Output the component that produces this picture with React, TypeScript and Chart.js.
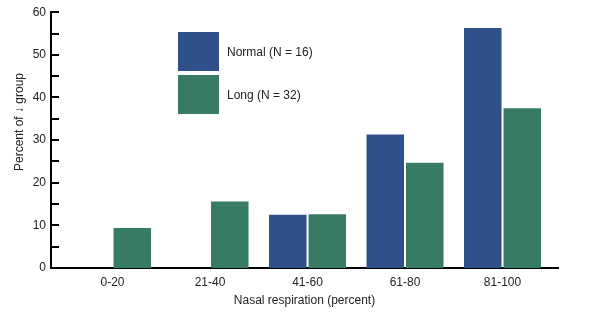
import React, { useEffect, useRef } from "react";
import { Chart, registerables } from "chart.js";

Chart.register(...registerables);

const categories = ["0-20", "21-40", "41-60", "61-80", "81-100"];
const normalValues = [0, 0, 12.5, 31.3, 56.3];
const longValues = [9.4, 15.6, 12.6, 24.7, 37.5];
const yTickValues = [0, 5, 10, 15, 20, 25, 30, 35, 40, 45, 50, 55, 60];
const seriesLabels = ["Normal (N = 16)", "Long (N = 32)"];
const seriesColors = ["#30508a", "#377b67"];
const yTitle = "Percent of \u2193 group";
const xTitle = "Nasal respiration (percent)";

const FONT = "'Liberation Sans', Arial, Helvetica, sans-serif";

const overlayPlugin = {
  id: "overlay",
  afterDraw(chart: any) {
    const ctx = chart.ctx;
    const y = chart.scales.y;
    const left = chart.chartArea.left;
    ctx.save();
    // inward y ticks
    ctx.strokeStyle = "#000";
    ctx.lineWidth = 2;
    yTickValues.forEach((v) => {
      const py = Math.round(y.getPixelForValue(v));
      ctx.beginPath();
      ctx.moveTo(left, py);
      ctx.lineTo(left + 8, py);
      ctx.stroke();
    });
    // legend
    const boxX = 178;
    const boxW = 41;
    const boxH = 39;
    const boxYs = [32, 75];
    ctx.font = "12px " + FONT;
    ctx.textBaseline = "middle";
    ctx.textAlign = "left";
    chart.data.datasets.forEach((ds: any, i: number) => {
      ctx.fillStyle = ds.backgroundColor;
      ctx.fillRect(boxX, boxYs[i], boxW, boxH);
      ctx.fillStyle = "#222";
      ctx.fillText(ds.label, boxX + boxW + 8, boxYs[i] + boxH / 2 + 1);
    });
    // y title
    ctx.translate(19.5, 122);
    ctx.rotate(-Math.PI / 2);
    ctx.textAlign = "center";
    ctx.textBaseline = "middle";
    ctx.font = "12px " + FONT;
    ctx.fillStyle = "#222";
    ctx.fillText(yTitle, 0, 0);
    ctx.restore();
  },
};

export default function App() {
  const ref = useRef<HTMLCanvasElement>(null);
  useEffect(() => {
    if (!ref.current) return;
    const chart = new Chart(ref.current, {
      type: "bar",
      data: {
        datasets: [
          {
            label: seriesLabels[0],
            data: normalValues.map((v, i) => ({ x: i + 1, y: v })),
            backgroundColor: seriesColors[0],
            borderWidth: 0,
          },
          {
            label: seriesLabels[1],
            data: longValues.map((v, i) => ({ x: i + 1, y: v })),
            backgroundColor: seriesColors[1],
            borderWidth: 0,
          },
        ],
      },
      options: {
        animation: false,
        responsive: false,
        maintainAspectRatio: false,
        devicePixelRatio: 1,
        layout: { padding: { top: 10, right: 37, left: 0, bottom: 0 } },
        datasets: {
          bar: { categoryPercentage: 0.81, barPercentage: 0.95 },
        },
        plugins: {
          legend: { display: false },
          tooltip: { enabled: false },
        },
        scales: {
          x: {
            type: "linear",
            offset: false,
            min: 0.369,
            max: 5.569,
            afterBuildTicks: (scale: any) => {
              scale.ticks = categories.map((_, i) => ({ value: i + 1 }));
            },
            afterFit: (scale: any) => {
              scale.height = 54;
            },
            grid: { display: false, drawTicks: false, offset: false },
            border: { display: true, color: "#000", width: 2 },
            ticks: {
              padding: 7,
              color: "#222",
              font: { family: FONT, size: 12 },
              maxRotation: 0,
              autoSkip: false,
              callback: (v: any) => categories[Math.round(v) - 1] ?? "",
            },
            title: {
              display: true,
              text: xTitle,
              color: "#222",
              font: { family: FONT, size: 12 },
              padding: { top: 4, bottom: 14 },
            },
          },
          y: {
            min: 0,
            max: 60,
            afterFit: (scale: any) => {
              scale.width = 51;
            },
            grid: { display: false, drawTicks: false },
            border: { display: true, color: "#000", width: 2 },
            ticks: {
              stepSize: 10,
              padding: 5,
              color: "#222",
              font: { family: FONT, size: 12 },
            },
          },
        },
      },
      plugins: [overlayPlugin],
    } as any);
    return () => chart.destroy();
  }, []);
  return (
    <div style={{ position: "fixed", left: 0, top: 0, width: 595, height: 322, background: "#fff" }}>
      <canvas ref={ref} width={595} height={322} style={{ width: 595, height: 322 }} />
    </div>
  );
}
